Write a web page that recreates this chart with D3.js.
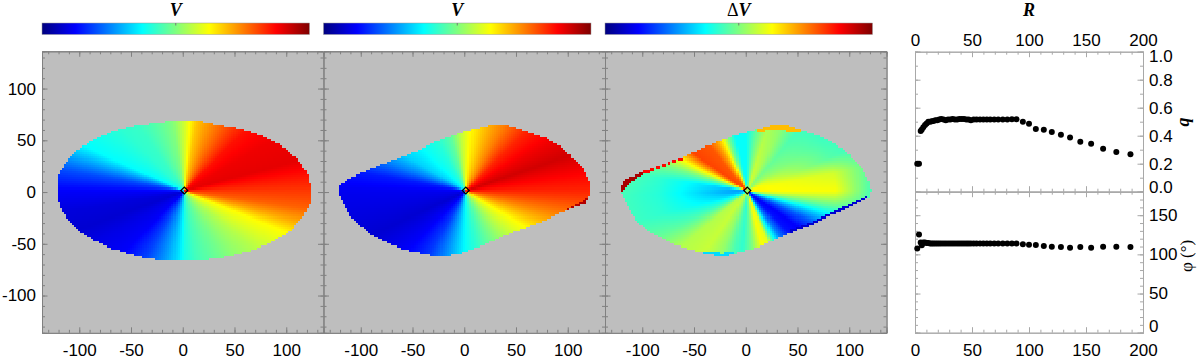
<!DOCTYPE html>
<html>
<head>
<meta charset="utf-8">
<script src="https://cdn.jsdelivr.net/npm/d3@7"></script>
<style>
body { margin: 0; background: white; }
text { font-family: "Liberation Sans", sans-serif; fill: black; }
.title { font-family: "Liberation Serif", serif; font-weight: bold; font-style: italic; font-size: 18px; }
</style>
</head>
<body>
<script>
// jet colour table, as seen on the colour bars
let jetStops = [0, 0.125, 0.375, 0.5, 0.625, 0.875, 1]
let jetColors = ["#00007f", "#0000ff", "#00ffff", "#7fff7f", "#ffff00", "#ff0000", "#7f0000"]

let mapTitles = ["V", "V", "ΔV"]
let mapTicks = [-100, -50, 0, 50, 100]
let center = [1.5, 1.5]

// outlines of the maps (data units)
let outline1 = [[-121.2,6.8],[-120.2,16.5],[-113.7,27.9],[-105.7,37.6],[-94.4,45.6],[-79.9,53.7],[-62.2,60.2],[-44.4,64.4],[-21.9,67.7],[0.6,68.9],[16.7,68.3],[36,64.4],[55.4,61.2],[74.7,54.7],[94,45.6],[110.1,32.7],[119.8,18.2],[124,1.9],[123,-7.8],[116.5,-22.3],[103.7,-36.9],[84.3,-48.3],[65,-56.3],[36,-62.8],[13.5,-65.3],[-18.7,-65.3],[-38.1,-62.1],[-67,-54.7],[-86.4,-45.9],[-100.9,-36.2],[-110.5,-27.2],[-116.9,-17.5],[-120.2,-7.8],[-121.2,-2.9]]
let outline2 = [[-120.9,6.7],[-108.6,14.8],[-87.7,22.9],[-66.8,31.6],[-45.8,40],[-26.5,48.7],[-7.2,56.2],[10.5,60.7],[26.6,64.9],[41.1,64.3],[60.4,58.5],[74.9,53.6],[89.4,46.2],[102.3,35.8],[113.6,22.9],[120,11.5],[121,0.2],[117.4,-9.5],[99.1,-16.6],[76.5,-27.3],[54,-35.5],[31.5,-44.5],[12.1,-53.2],[-7.2,-59],[-21.7,-61.6],[-39.4,-59],[-58.7,-54.8],[-78,-46.7],[-90.9,-39.6],[-103.8,-28.9],[-110.3,-22.4],[-116.1,-11.1],[-119.9,-3]]
let outline3 = [[-120.9,4.4],[-117,12.2],[-99.3,19.6],[-80,26.1],[-60.7,34.2],[-44.5,41.3],[-25.2,49.4],[-5.9,56.2],[11.8,60.7],[26.3,64.9],[39.2,64.3],[55.3,59.4],[71.4,53.6],[87.5,45.5],[100.4,35.8],[111.6,22.9],[118.1,11.5],[120.3,1.8],[118.1,-4.6],[103.6,-12.1],[84.3,-20.8],[64.9,-30.5],[42.4,-38.6],[26.3,-46.1],[10.2,-53.2],[-9.1,-58],[-22,-61.6],[-41.3,-58],[-60.7,-53.2],[-80,-45.1],[-92.9,-37.7],[-105.7,-27.3],[-110.6,-19.2],[-117,-7.9],[-120.2,-1.4]]

// colour bar position against position angle (degrees, from +x, counter clockwise)
let angles1 = [0, 15, 30, 45, 60, 70, 80, 85, 90, 100, 110, 125, 135, 156, 170, 180, 190, 200, 210, 225, 240, 255, 265, 270, 280, 300, 320, 338, 345, 352, 360]
let values1 = [0.82, 0.9, 0.89, 0.86, 0.78, 0.73, 0.68, 0.63, 0.58, 0.5, 0.47, 0.43, 0.42, 0.375, 0.2, 0.12, 0.09, 0.08, 0.1, 0.12, 0.19, 0.28, 0.35, 0.4, 0.44, 0.49, 0.55, 0.625, 0.71, 0.78, 0.82]
let angles2 = [0, 19, 30, 45, 60, 75, 85, 95, 105, 120, 135, 150, 160, 170, 180, 205, 225, 240, 255, 270, 300, 329, 345, 360]
let values2 = [0.84, 0.92, 0.89, 0.84, 0.75, 0.68, 0.63, 0.56, 0.47, 0.41, 0.38, 0.33, 0.25, 0.15, 0.11, 0.08, 0.12, 0.18, 0.28, 0.38, 0.5, 0.625, 0.74, 0.84]
// the difference map also changes with radius: near the centre, mid way, at the rim
let angles3 = [0, 12, 22, 35, 50, 62, 72, 82, 92, 102, 110, 116, 122, 130, 145, 150, 155, 162, 172, 182, 195, 207, 220, 235, 248, 258, 265, 275, 285, 292, 297, 305, 315, 325, 335, 342, 350, 357, 360]
let values3Core = [0.63, 0.63, 0.62, 0.55, 0.5, 0.56, 0.58, 0.5, 0.38, 0.38, 0.5, 0.64, 0.72, 0.79, 0.81, 0.76, 0.66, 0.5, 0.3, 0.27, 0.33, 0.42, 0.55, 0.57, 0.52, 0.45, 0.42, 0.5, 0.62, 0.6, 0.42, 0.25, 0.14, 0.12, 0.2, 0.3, 0.47, 0.6, 0.63]
let values3Mid = [0.62, 0.58, 0.46, 0.44, 0.43, 0.5, 0.53, 0.45, 0.38, 0.38, 0.5, 0.64, 0.72, 0.79, 0.81, 0.7, 0.6, 0.5, 0.42, 0.41, 0.42, 0.47, 0.55, 0.57, 0.52, 0.45, 0.42, 0.5, 0.62, 0.6, 0.42, 0.25, 0.14, 0.12, 0.22, 0.33, 0.47, 0.57, 0.62]
let values3Rim = [0.44, 0.46, 0.42, 0.4, 0.42, 0.5, 0.53, 0.45, 0.38, 0.38, 0.5, 0.64, 0.72, 0.79, 0.81, 0.7, 0.62, 0.52, 0.46, 0.44, 0.44, 0.48, 0.55, 0.57, 0.52, 0.45, 0.42, 0.5, 0.62, 0.6, 0.42, 0.25, 0.14, 0.12, 0.22, 0.34, 0.42, 0.44, 0.44]
let ringRadii = [10, 85, 120]

// strips along the rim that do not follow the angle pattern
let rim2Red = [[121,-5],[117.4,-11],[99,-18],[100,-15],[112,-10],[118,-5]]
let rim3Red = [[-120.9,1],[-122,4.4],[-117,13],[-99.3,20.5],[-99.3,17],[-112,9]]
let rim3RedThin = [[-99.3,20.5],[-80,27],[-60.7,35],[-60.7,32.5],[-80,25],[-99.3,18]]
let rim3Blue = [[118.1,-5.5],[103.6,-13],[84.3,-21.5],[64.9,-31.5],[42.4,-39.5],[42.4,-36],[64.9,-28],[84.3,-18],[103.6,-10],[116,-3.5]]
let rim3Orange = [[11.8,61.5],[26.3,66],[39.2,65.5],[55.3,60],[45,59],[26.3,62],[12,58.5]]
let rim3Cyan = [[-41.3,-59],[-22,-63],[-9,-59],[-12,-56],[-22,-58.5],[-38,-56]]

// radial profiles
let radius = [2, 3.5, 5, 6, 7.3, 8.8, 10.2, 11.7, 13.2, 14.7, 16.2, 17.8, 19.5, 21.2, 23, 25, 27, 29, 31, 33, 35, 37, 39, 41, 43, 45, 47, 49, 51.5, 54, 57, 60, 63, 66, 69.5, 73, 77, 81, 85, 89, 94.6, 100, 106, 113, 120, 128, 136, 145, 154.5, 165, 176.6, 189]
let qValues = [0.2, 0.2, 0.433, 0.445, 0.46, 0.476, 0.488, 0.5, 0.5, 0.503, 0.505, 0.51, 0.51, 0.515, 0.52, 0.515, 0.51, 0.515, 0.515, 0.52, 0.515, 0.515, 0.52, 0.52, 0.52, 0.515, 0.515, 0.51, 0.515, 0.515, 0.515, 0.515, 0.515, 0.515, 0.515, 0.515, 0.515, 0.515, 0.517, 0.517, 0.5, 0.486, 0.448, 0.443, 0.426, 0.407, 0.388, 0.357, 0.343, 0.307, 0.283, 0.267]
let phiValues = [107.6, 125.5, 115, 111.5, 115, 115, 114.5, 114.5, 114, 114, 114, 114, 114, 114, 114, 114, 114, 114, 114, 114, 114, 114, 114, 114, 114, 114, 114, 114, 114, 114, 114, 114, 114, 114, 114, 114, 114, 114, 114, 114, 113, 112.3, 112, 110.6, 109.8, 109.4, 108.5, 109.4, 108.5, 109.8, 109.8, 109.4]

let width = 1200
let height = 361
let axisColor = "#808080"
let sideColor = "#a8a8a8"
let fontSize = "17px"

let svg = d3.select("body").append("svg")
    .attr("width", width)
    .attr("height", height)
    .style("display", "block")

let color = d3.scaleLinear().domain(jetStops).range(jetColors)

// colour bars
let defs = svg.append("defs")
let grad = defs.append("linearGradient").attr("id", "jet")
grad.selectAll("stop")
    .data(jetStops)
    .enter()
    .append("stop")
    .attr("offset", d => d)
    .attr("stop-color", d => color(d))

function styleAxis(g, stroke) {
    g.selectAll("path, line").attr("stroke", stroke)
    g.selectAll("text").attr("font-size", fontSize)
}

// minor ticks first, then the majors on top of them
function addAxis(g, axisFn, scale, minor, major, x, y, labels, stroke, pad) {
    g.append("g")
        .attr("transform", `translate(${x},${y})`)
        .call(axisFn(scale).tickValues(minor).tickSize(-3).tickFormat(""))
        .call(styleAxis, stroke)
    return g.append("g")
        .attr("transform", `translate(${x},${y})`)
        .call(axisFn(scale).tickValues(major).tickSize(-5.5).tickPadding(pad)
            .tickFormat(labels ? (labels === true ? d => String(d) : labels) : ""))
        .call(styleAxis, stroke)
}

let mapSize = 281.5
let mapTop = 51.3
let panelLefts = [42, 323.5, 605]
let barWidth = 267.5
let panelOutlines = [outline1, outline2, outline3]
let panelAngles = [angles1, angles2, angles3]
let panelRings = [[values1, values1, values1], [values2, values2, values2], [values3Core, values3Mid, values3Rim]]
let panelRims = [
    [],
    [{ shape: rim2Red, value: 0.95 }],
    [{ shape: rim3Red, value: 0.96 }, { shape: rim3RedThin, value: 0.87 }, { shape: rim3Blue, value: 0.08 }, { shape: rim3Orange, value: 0.69 }, { shape: rim3Cyan, value: 0.34 }]
]
let minorMap = d3.range(-130, 131, 10)
let step = 2
let grid = d3.range(-126, 127, step)

panelLefts.forEach((left, i) => {
    // colour bar + title
    let bar = svg.append("g").attr("transform", `translate(${left},23)`)
    bar.append("rect")
        .attr("width", barWidth)
        .attr("height", 11.5)
        .attr("fill", "url(#jet)")
        .attr("stroke", "#999")
        .attr("stroke-width", 0.5)
    bar.append("line")
        .attr("x1", barWidth / 2).attr("x2", barWidth / 2)
        .attr("y1", 0).attr("y2", 2.5)
        .attr("stroke", "#777")
    let title = svg.append("text")
        .attr("class", "title")
        .attr("x", left + barWidth / 2)
        .attr("y", 16)
        .attr("text-anchor", "middle")
    if (mapTitles[i][0] === "Δ") {
        title.append("tspan").style("font-style", "normal").style("font-weight", "normal").text("Δ")
        title.append("tspan").text("V")
    } else {
        title.text(mapTitles[i])
    }

    let x = d3.scaleLinear().domain([-136, 136]).range([left, left + mapSize])
    let y = d3.scaleLinear().domain([-136, 136]).range([mapTop + mapSize, mapTop])

    svg.append("rect")
        .attr("x", left)
        .attr("y", mapTop)
        .attr("width", mapSize)
        .attr("height", mapSize)
        .attr("fill", "#bebebe")

    // velocity field: cells inside the outline, coloured from the angle tables
    let rings = panelRings[i].map(vals => d3.scaleLinear().domain(panelAngles[i]).range(vals))
    let cells = []
    grid.forEach(cx => grid.forEach(cy => {
        if (!d3.polygonContains(panelOutlines[i], [cx, cy])) return
        let dx = cx - center[0]
        let dy = cy - center[1]
        let ang = (Math.atan2(dy, dx) * 180 / Math.PI + 360) % 360
        let v = d3.scaleLinear().domain(ringRadii).range(rings.map(r => r(ang))).clamp(true)(Math.hypot(dx, dy))
        panelRims[i].forEach(r => {
            if (d3.polygonContains(r.shape, [cx, cy])) v = r.value
        })
        cells.push({ cx: cx, cy: cy, v: v })
    }))
    svg.append("g")
        .attr("shape-rendering", "crispEdges")
        .selectAll("rect")
        .data(cells)
        .enter()
        .append("rect")
        .attr("x", d => x(d.cx - step / 2))
        .attr("y", d => y(d.cy + step / 2))
        .attr("width", x(step) - x(0) + 0.6)
        .attr("height", y(0) - y(step) + 0.6)
        .attr("fill", d => color(d.v))

    let g = svg.append("g")
    addAxis(g, d3.axisBottom, x, minorMap, mapTicks, 0, mapTop + mapSize, true, axisColor, 11)
    addAxis(g, d3.axisTop, x, minorMap, mapTicks, 0, mapTop, false, axisColor, 3)
    addAxis(g, d3.axisLeft, y, minorMap, mapTicks, left, 0, i === 0, axisColor, 6)
    addAxis(g, d3.axisRight, y, minorMap, mapTicks, left + mapSize, 0, false, axisColor, 3)

    svg.append("path")
        .attr("d", d3.symbol(d3.symbolSquare, 24))
        .attr("transform", `translate(${x(center[0])},${y(center[1])}) rotate(45)`)
        .attr("fill", "none")
        .attr("stroke", "black")
        .attr("stroke-width", 1.2)
})

// radial profile panels
let sideLeft = 915
let sideRight = 1143
let xR = d3.scaleLinear().domain([0, 200]).range([sideLeft, sideRight])
let yQ = d3.scaleLinear().domain([0, 1]).range([191.7, 51.7])
let yPhi = d3.scaleLinear().domain([0, 180]).range([332.7, 191.7])
let minorR = d3.range(0, 201, 10)
let majorR = [0, 50, 100, 150, 200]
let qMinor = [0, 0.1, 0.2, 0.3, 0.4, 0.5, 0.6, 0.7, 0.8, 0.9, 1]
let qMajor = [0, 0.2, 0.4, 0.6, 0.8, 1]
let phiMinor = d3.range(0, 181, 10)
let phiMajor = [0, 50, 100, 150]

let side = svg.append("g")
addAxis(side, d3.axisTop, xR, minorR, majorR, 0, 51.7, true, sideColor, 6)
addAxis(side, d3.axisBottom, xR, minorR, majorR, 0, 191.7, false, sideColor, 3)
addAxis(side, d3.axisTop, xR, minorR, majorR, 0, 191.7, false, sideColor, 3)
addAxis(side, d3.axisBottom, xR, minorR, majorR, 0, 332.7, true, sideColor, 11)

let qAxis = addAxis(side, d3.axisRight, yQ, qMinor, qMajor, sideRight, 0, d3.format(".1f"), sideColor, 6)
addAxis(side, d3.axisLeft, yQ, qMinor, qMajor, sideLeft, 0, false, sideColor, 3)
let phiAxis = addAxis(side, d3.axisRight, yPhi, phiMinor, phiMajor, sideRight, 0, true, sideColor, 6)
addAxis(side, d3.axisLeft, yPhi, phiMinor, phiMajor, sideLeft, 0, false, sideColor, 3)

// the end labels sit inside the panel range
qAxis.selectAll(".tick text").attr("dy", d => d === 1 ? "0.6em" : d === 0 ? "0.05em" : "0.32em")
phiAxis.selectAll(".tick text").attr("dy", d => d === 0 ? "-0.05em" : "0.32em")

svg.append("g")
    .selectAll("circle")
    .data(radius)
    .enter()
    .append("circle")
    .attr("cx", d => xR(d))
    .attr("cy", (d, i) => yQ(qValues[i]))
    .attr("r", 3)
    .attr("fill", "black")

svg.append("g")
    .selectAll("circle")
    .data(radius)
    .enter()
    .append("circle")
    .attr("cx", d => xR(d))
    .attr("cy", (d, i) => yPhi(phiValues[i]))
    .attr("r", 3)
    .attr("fill", "black")

svg.append("text")
    .attr("class", "title")
    .attr("x", 1029)
    .attr("y", 16)
    .attr("text-anchor", "middle")
    .text("R")

svg.append("text")
    .attr("class", "title")
    .attr("transform", "translate(1189,122) rotate(-90)")
    .attr("text-anchor", "middle")
    .text("q")

svg.append("text")
    .attr("transform", "translate(1192,256) rotate(-90)")
    .attr("text-anchor", "middle")
    .style("font-family", "Liberation Serif")
    .style("font-size", "17px")
    .text("φ (°)")
</script>
</body>
</html>
